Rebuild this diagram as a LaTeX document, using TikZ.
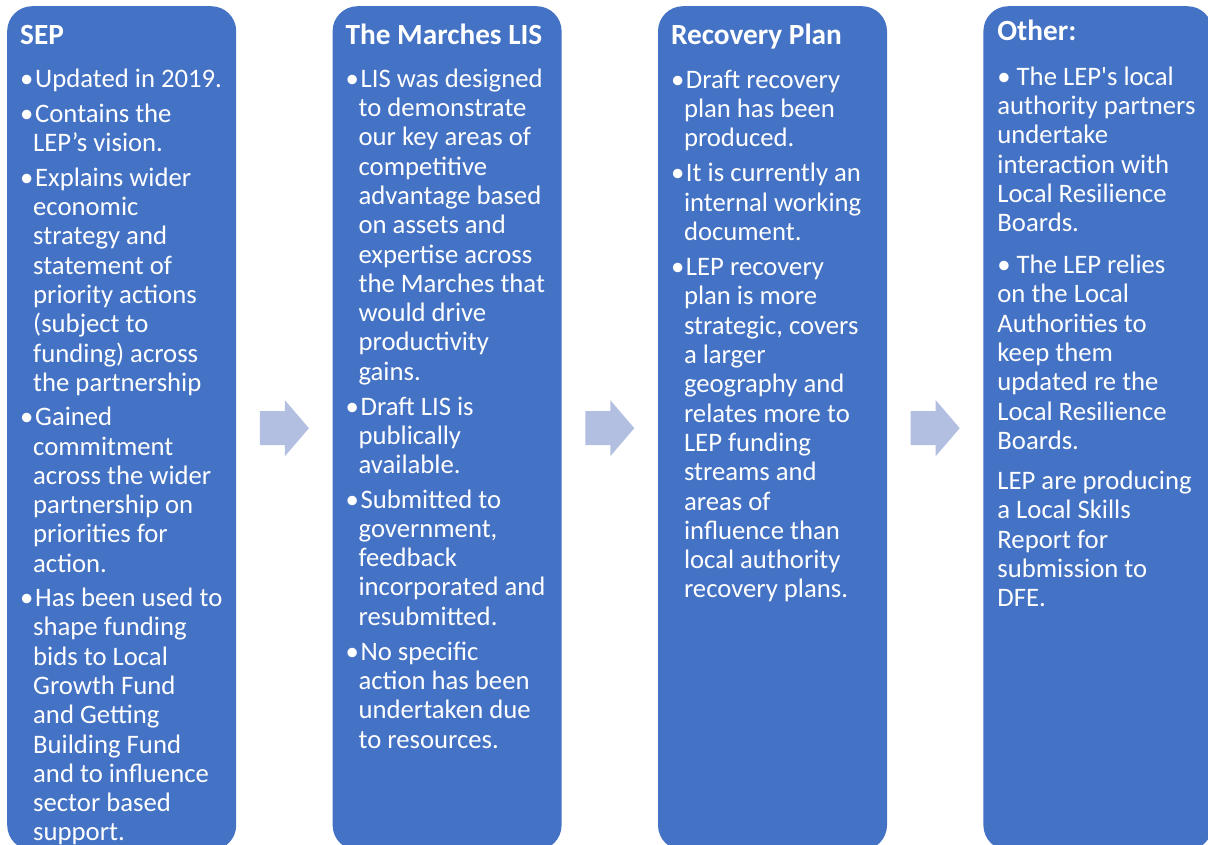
\documentclass[tikz,border=0pt]{standalone}
\usepackage{fontspec}
\setmainfont{Carlito}
\usetikzlibrary{positioning,calc}

\definecolor{panelblue}{HTML}{4472C4}
\definecolor{arrowblue}{HTML}{B2BFE1}
\newcommand\bmark{\makebox[15pt][l]{\textbullet}}
\newcommand\bcont{\hspace*{13pt}}
\newcommand\flowarrow[1]{\fill[arrowblue,shift={(#1)}] (-24.5,-17) -- (0.5,-17) -- (0.5,-28)
  -- (24.5,0) -- (0.5,28) -- (0.5,17) -- (-24.5,17) -- cycle;}

\begin{document}
\begin{tikzpicture}[x=1pt,y=1pt,
    panel/.style={rectangle,rounded corners=25pt,fill=panelblue,minimum width=229pt,
      minimum height=844pt,inner sep=0pt},
    head/.style={anchor=base west,inner sep=0pt,text=white,font=\fontsize{29.3}{34}\selectfont\bfseries},
    body/.style={anchor=north west,inner sep=0pt,text=white,align=left,
      font=\fontsize{26.7}{29.3}\selectfont}]
  \useasboundingbox (0,0) rectangle (1208,-845);
  \node[panel,anchor=north west] (sep) at (7,-6) {};
  \node[panel,right=96pt of sep] (lis) {};
  \node[panel,right=96pt of lis] (rec) {};
  \node[panel,right=96pt of rec] (oth) {};
  \flowarrow{$(sep.east)!0.5!(lis.west)$}
  \flowarrow{$(lis.east)!0.5!(rec.west)$}
  \flowarrow{$(rec.east)!0.5!(oth.west)$}
  % SEP
  \node[head] (sephead) at ($(sep.north west)+(13,-39)$) {SEP};
  \node[body] (sepbody) at ($(sep.north west)+(13,-60.5)$) {\strut\bmark Updated in 2019.\\[5.6pt]
    \bmark Contains the\\ \bcont LEP’s vision.\\[5.6pt]
    \bmark Explains wider\\ \bcont economic\\ \bcont strategy and\\ \bcont statement of\\
    \bcont priority actions\\ \bcont (subject to\\ \bcont funding) across\\ \bcont the partnership\\[5pt]
    \bmark Gained\\ \bcont commitment\\ \bcont across the wider\\ \bcont partnership on\\
    \bcont priorities for\\ \bcont action.\\[5pt]
    \bmark Has been used to\\ \bcont shape funding\\ \bcont bids to Local\\ \bcont Growth Fund\\
    \bcont and Getting\\ \bcont Building Fund\\ \bcont and to influence\\ \bcont sector based\\
    \bcont support.};
  % LIS
  \node[head] (lishead) at ($(lis.north west)+(13,-39)$) {The Marches LIS};
  \node[body] (lisbody) at ($(lis.north west)+(13,-60.5)$) {\strut\bmark LIS was designed\\
    \bcont to demonstrate\\ \bcont our key areas of\\ \bcont competitive\\ \bcont advantage based\\
    \bcont on assets and\\ \bcont expertise across\\ \bcont the Marches that\\ \bcont would drive\\
    \bcont productivity\\ \bcont gains.\\[5.6pt]
    \bmark Draft LIS is\\ \bcont publically\\ \bcont available.\\[5pt]
    \bmark Submitted to\\ \bcont government,\\ \bcont feedback\\ \bcont incorporated and\\
    \bcont resubmitted.\\[5.6pt]
    \bmark No specific\\ \bcont action has been\\ \bcont undertaken due\\ \bcont to resources.};
  % Recovery plan
  \node[head] (rechead) at ($(rec.north west)+(13,-39)$) {Recovery Plan};
  \node[body] (recbody) at ($(rec.north west)+(13,-61.5)$) {\strut\bmark Draft recovery\\
    \bcont plan has been\\ \bcont produced.\\[5.8pt]
    \bmark It is currently an\\ \bcont internal working\\ \bcont document.\\[5.8pt]
    \bmark LEP recovery\\ \bcont plan is more\\ \bcont strategic, covers\\ \bcont a larger\\
    \bcont geography and\\ \bcont relates more to\\ \bcont LEP funding\\ \bcont streams and\\
    \bcont areas of\\ \bcont influence than\\ \bcont local authority\\ \bcont recovery plans.};
  % Other
  \node[head] (othhead) at ($(oth.north west)+(14,-35)$) {Other:};
  \node[body] (othbody) at ($(oth.north west)+(14,-58.5)$) {\strut• The LEP\textquotesingle s local\\
    authority partners\\ undertake\\ interaction with\\ Local Resilience\\ Boards.\\[12.5pt]
    • The LEP relies\\ on the Local\\ Authorities to\\ keep them\\ updated re the\\
    Local Resilience\\ Boards.\\[10.8pt]
    LEP are producing\\ a Local Skills\\ Report for\\ submission to\\ DFE.};
\end{tikzpicture}
\end{document}
